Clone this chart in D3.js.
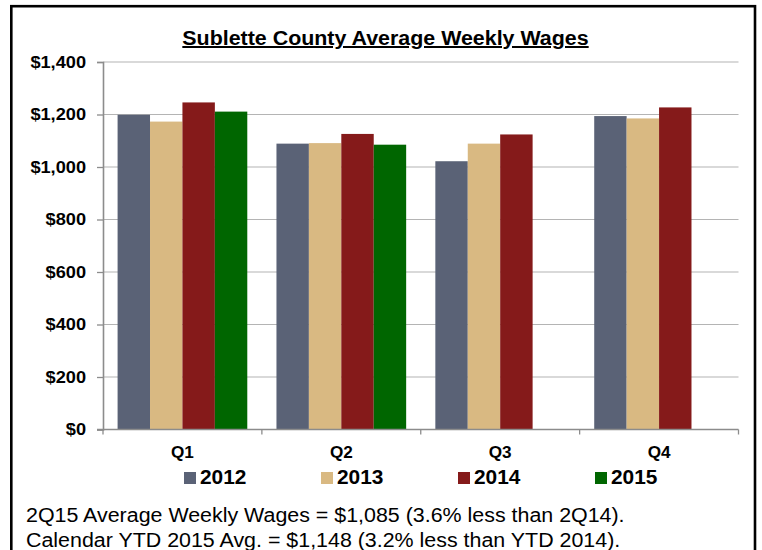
<!DOCTYPE html>
<html>
<head>
<meta charset="utf-8">
<script src="https://cdn.jsdelivr.net/npm/d3@7"></script>
<style>
  body { margin: 0; background: #fff; }
  svg { display: block; font-family: "Liberation Sans", Arial, sans-serif; }
</style>
</head>
<body>
<div id="chart_root"></div>
<script>
// chart data
const quarters = ["Q1", "Q2", "Q3", "Q4"];
const years = ["2012", "2013", "2014", "2015"];
const wages2012 = [1199, 1089, 1022, 1194];
const wages2013 = [1173, 1091, 1089, 1185];
const wages2014 = [1246, 1126, 1124, 1227];
const wages2015 = [1211, 1085, null, null];
const yTicks = [0, 200, 400, 600, 800, 1000, 1200, 1400];
const yearColors = ["#5a6276", "#d9b982", "#851a1a", "#006600"];
const titleText = "Sublette County Average Weekly Wages";
const noteLines = [
  "2Q15 Average Weekly Wages = $1,085 (3.6% less than 2Q14).",
  "Calendar YTD 2015 Avg. = $1,148 (3.2% less than YTD 2014).",
];

const widthValue = 762;
const heightValue = 550;
const pad = { left: 103, right: 24, top: 62, bottom: 120 };
const textStretch = 1.07; // the source picture is a little wider than tall

const series = [wages2012, wages2013, wages2014, wages2015];

// widen text a bit, like the original rendering
function stretch(sel) {
  sel.each(function () {
    const len = this.getComputedTextLength();
    d3.select(this)
      .attr("textLength", len * textStretch)
      .attr("lengthAdjust", "spacingAndGlyphs");
  });
}

const svg = d3
  .select("#chart_root")
  .append("svg")
  .attr("width", widthValue)
  .attr("height", heightValue);

// outer frame (bottom edge runs off the picture)
svg
  .append("rect")
  .attr("x", 11.3)
  .attr("y", 6.2)
  .attr("width", 743.7)
  .attr("height", 600)
  .attr("fill", "none")
  .attr("stroke", "#000")
  .attr("stroke-width", 2.6);

// scales
const x0 = d3
  .scaleBand()
  .domain(quarters)
  .range([pad.left, widthValue - pad.right + 0.5]);
const x1 = d3
  .scaleBand()
  .domain(years)
  .range([0, x0.bandwidth()])
  .paddingOuter(0.45);
const y = d3
  .scaleLinear()
  .domain([0, 1400])
  .range([429.5, pad.top]);

// gridlines
svg
  .append("g")
  .attr("class", "grid")
  .selectAll("line")
  .data(yTicks.filter((d) => d > 0))
  .join("line")
  .attr("x1", pad.left)
  .attr("x2", x0.range()[1])
  .attr("y1", (d) => y(d))
  .attr("y2", (d) => y(d))
  .attr("stroke", "#b4b4b4")
  .attr("stroke-width", 1.2);

// bars
const groups = svg
  .append("g")
  .selectAll("g")
  .data(quarters)
  .join("g")
  .attr("transform", (q) => "translate(" + x0(q) + ",0)");

groups
  .selectAll("rect")
  .data((q, qi) =>
    years
      .map((yr, i) => ({ year: yr, idx: i, value: series[i][qi] }))
      .filter((d) => d.value != null)
  )
  .join("rect")
  .attr("x", (d) => x1(d.year))
  .attr("width", x1.bandwidth())
  .attr("y", (d) => y(d.value))
  .attr("height", (d) => y(0) - y(d.value))
  .attr("fill", (d) => yearColors[d.idx]);

// y axis
const yAxis = svg
  .append("g")
  .attr("transform", "translate(" + pad.left + ",0)")
  .call(
    d3
      .axisLeft(y)
      .tickValues(yTicks)
      .tickSize(6)
      .tickPadding(11)
      .tickFormat(d3.format("$,"))
  );
yAxis.select(".domain").attr("stroke", "#8c8c8c").attr("stroke-width", 1.6);
yAxis.selectAll(".tick line").attr("stroke", "#8c8c8c").attr("stroke-width", 1.3);
yAxis
  .selectAll(".tick text")
  .attr("fill", "#000")
  .style("font-size", "17px")
  .style("font-weight", "bold")
  .call(stretch);

// x axis: baseline, boundary ticks, quarter labels
const xAxis = svg.append("g");
xAxis
  .append("line")
  .attr("x1", pad.left - 6)
  .attr("x2", x0.range()[1])
  .attr("y1", y(0))
  .attr("y2", y(0))
  .attr("stroke", "#8c8c8c")
  .attr("stroke-width", 1.6);
xAxis
  .selectAll(".xtick")
  .data(quarters.map((q) => x0(q)).concat([x0.range()[1]]))
  .join("line")
  .attr("class", "xtick")
  .attr("x1", (d) => d)
  .attr("x2", (d) => d)
  .attr("y1", y(0))
  .attr("y2", y(0) + 5)
  .attr("stroke", "#8c8c8c")
  .attr("stroke-width", 1.3);
xAxis
  .selectAll(".xlabel")
  .data(quarters)
  .join("text")
  .attr("class", "xlabel")
  .attr("x", (q) => x0(q) + x0.bandwidth() / 2)
  .attr("y", 458)
  .attr("text-anchor", "middle")
  .style("font-size", "16px")
  .style("font-weight", "bold")
  .text((q) => q)
  .call(stretch);

// title
svg
  .append("text")
  .attr("x", 385.5)
  .attr("y", 45)
  .attr("text-anchor", "middle")
  .style("font-size", "20px")
  .style("font-weight", "bold")
  .style("text-decoration", "underline")
  .text(titleText)
  .call(stretch);

// legend
const legend = svg
  .append("g")
  .selectAll("g")
  .data(years)
  .join("g")
  .attr("transform", (d, i) => "translate(" + (184 + i * 137) + ",0)");
legend
  .append("rect")
  .attr("x", 0)
  .attr("y", 472)
  .attr("width", 12)
  .attr("height", 12)
  .attr("fill", (d, i) => yearColors[i]);
legend
  .append("text")
  .attr("x", 16)
  .attr("y", 484)
  .style("font-size", "19.5px")
  .style("font-weight", "bold")
  .text((d) => d)
  .call(stretch);

// notes below the chart
svg
  .append("g")
  .selectAll("text")
  .data(noteLines)
  .join("text")
  .attr("x", 26)
  .attr("y", (d, i) => 522 + i * 24.5)
  .style("font-size", "20px")
  .text((d) => d)
  .call(stretch);
</script>
</body>
</html>
